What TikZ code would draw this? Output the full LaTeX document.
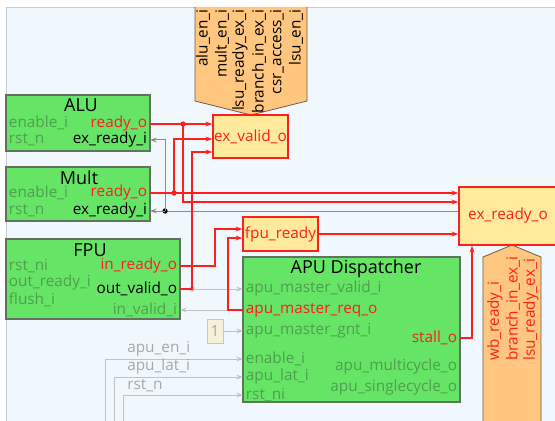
\documentclass[tikz,border=0pt]{standalone}
\usepackage{fontspec}
\setmainfont{Open Sans}
\usetikzlibrary{arrows.meta}

\definecolor{bgblue}{RGB}{240,248,254}
\definecolor{bgline}{RGB}{200,204,208}
\definecolor{blockgreen}{RGB}{102,228,102}
\definecolor{blockline}{RGB}{95,115,95}
\definecolor{pingray}{RGB}{78,160,78}
\definecolor{wirered}{RGB}{255,30,30}
\definecolor{logicyellow}{RGB}{255,234,156}
\definecolor{busorange}{RGB}{254,198,126}
\definecolor{busline}{RGB}{110,92,72}
\definecolor{wiregray}{RGB}{195,195,195}
\definecolor{labelgray}{RGB}{168,168,168}
\definecolor{constfill}{RGB}{246,242,218}

\tikzset{
  block/.style={draw=blockline,fill=blockgreen,line width=0.8pt},
  blocktitle/.style={font=\fontsize{13.5}{15}\selectfont},
  pinin/.style={anchor=west,text=pingray,inner xsep=2pt,inner ysep=0pt},
  pinout/.style={anchor=east,inner xsep=2pt,inner ysep=0pt},
  logic/.style={draw=wirered,fill=logicyellow,text=wirered,line width=1.1pt,inner sep=0pt},
  redwire/.style={draw=wirered,line width=1.1pt},
  graywire/.style={draw=wiregray,line width=0.75pt},
  darkwire/.style={draw=black!45,line width=0.75pt},
  bus/.style={draw=busline,fill=busorange,line width=0.6pt},
  junction/.style={circle,inner sep=0pt,minimum size=4pt},
}

\begin{document}
\begin{tikzpicture}[x=0.75pt,y=-0.75pt,>={Stealth[length=5pt,width=3.6pt]},
  font=\fontsize{11.5}{13}\selectfont]

\useasboundingbox (0,0) rectangle (555,420);
\clip (0,0) rectangle (555,420);

\fill[bgblue] (6,7) rectangle (560,425);
\draw[bgline] (560,7) -- (6,7) -- (6,425);

%%%%%%%%%%%%%%%%%%%%%%%%%%%%%%%%%%%%%%

\draw[bus] (195,7) -- (195,101) -- (251,115) -- (307,101) -- (307,7);
\foreach \x/\nm/\txt in {203/bai/alu\_en\_i,222/bmi/mult\_en\_i,240/blr/lsu\_ready\_ex\_i,
    259/bbr/branch\_in\_ex\_i,277/bcs/csr\_access\_i,296/bls/lsu\_en\_i}
  \node[rotate=90,anchor=east,inner sep=0pt] (\nm) at (\x,9) {\txt};

\draw[bus] (483,425) -- (483,257) -- (512,245) -- (541,257) -- (541,425);
\foreach \x/\nm/\txt in {495/owb/wb\_ready\_i,513/obr/branch\_in\_ex\_i,531/olr/lsu\_ready\_ex\_i}
  \node[rotate=90,anchor=west,inner sep=0pt,text=wirered] (\nm) at (\x,361) {\txt};

%%%%%%%%%%%%%%%%%%%%%%%%%%%%%%%%%%%%%%

\draw[block] (6,95) rectangle (150,151);
\node[blocktitle] (alu) at (81,105) {ALU};
\node[pinin] (aluen) at (6,123) {enable\_i};
\node[pinin] (alurst) at (6,140) {rst\_n};
\node[pinout,text=wirered] (alurdy) at (150,124) {ready\_o};
\node[pinout] (aluexr) at (150,140) {ex\_ready\_i};

\draw[block] (6,167) rectangle (150,221);
\node[blocktitle] (mult) at (79,178) {Mult};
\node[pinin] (multen) at (6,193) {enable\_i};
\node[pinin] (multrst) at (6,211) {rst\_n};
\node[pinout,text=wirered] (multrdy) at (150,193) {ready\_o};
\node[pinout] (multexr) at (150,211) {ex\_ready\_i};

\draw[block] (6,239) rectangle (180,319);
\node[blocktitle] (fpu) at (90,250) {FPU};
\node[pinin] (fpurst) at (6,266) {rst\_ni};
\node[pinin] (fpuoutr) at (6,283) {out\_ready\_i};
\node[pinin] (fpuflush) at (6,300) {flush\_i};
\node[pinout,text=wirered] (fpuinr) at (180,266) {in\_ready\_o};
\node[pinout] (fpuoutv) at (180,289) {out\_valid\_o};
\node[pinout,text=pingray] (fpuinv) at (180,310) {in\_valid\_i};

\draw[block] (243,257) rectangle (460,402);
\node[blocktitle] (apu) at (356,269) {APU Dispatcher};
\node[pinin] (apuvalid) at (243,289) {apu\_master\_valid\_i};
\node[pinin,text=wirered] (apureq) at (243,310) {apu\_master\_req\_o};
\node[pinin] (apugnt) at (243,331) {apu\_master\_gnt\_i};
\node[pinin] (apuen) at (243,359) {enable\_i};
\node[pinin] (apulat) at (243,377) {apu\_lat\_i};
\node[pinin] (apurst) at (243,395) {rst\_ni};
\node[pinout,text=wirered] (apustall) at (460,338) {stall\_o};
\node[pinout,text=pingray] (apumulti) at (460,367) {apu\_multicycle\_o};
\node[pinout,text=pingray] (apusingle) at (460,388) {apu\_singlecycle\_o};

%%%%%%%%%%%%%%%%%%%%%%%%%%%%%%%%%%%%%%

\node[logic,minimum width=56.25pt,minimum height=32.25pt] (exvalid) at (250.5,136.5) {ex\_valid\_o};
\node[logic,minimum width=56.25pt,minimum height=25.5pt] (fpurdy) at (280.5,234) {fpu\_ready};
\node[logic,minimum width=73.5pt,minimum height=43.5pt] (exrdy) at (508,216) {ex\_ready\_o};
\node[draw=black!22,fill=constfill,text=labelgray,minimum width=12pt,minimum height=18pt,
  inner sep=0pt] (one) at (215,331) {1};

%%%%%%%%%%%%%%%%%%%%%%%%%%%%%%%%%%%%%%

\draw[darkwire] (exrdy.west |- 0,211) -- (165,211);
\node[junction,fill=black] (jdark) at (165,211) {};
\draw[darkwire,->] (jdark.center) -- (multexr.east);
\draw[darkwire,->] (jdark.center) |- (aluexr.east);

\draw[graywire,->] (fpuoutv.east) -- (apuvalid.west);
\node[junction,fill=black!25] (jgray) at (192,289) {};
\draw[graywire,->] (apureq.west) -- (fpuinv.east);
\draw[graywire,->] (one.east) -- (apugnt.west);

\coordinate (enbot) at (105,425);
\coordinate (latbot) at (114,425);
\coordinate (rstbot) at (123,425);
\draw[graywire,->] (enbot) |- (apuen.west);
\draw[graywire,->] (latbot) |- (apulat.west);
\draw[graywire,->] (rstbot) |- (apurst.west);
\node[anchor=west,text=labelgray,inner sep=0pt] (enlbl) at (127,349) {apu\_en\_i};
\node[anchor=west,text=labelgray,inner sep=0pt] (latlbl) at (127,367) {apu\_lat\_i};
\node[anchor=west,text=labelgray,inner sep=0pt] (rstlbl) at (127,386) {rst\_n};

%%%%%%%%%%%%%%%%%%%%%%%%%%%%%%%%%%%%%%

\draw[redwire,->] (alurdy.east) -- (exvalid.west |- alurdy.east);
\node[junction,fill=wirered] (jalu) at (183,124) {};
\draw[redwire,->] (jalu.center) |- (exrdy.west |- 0,202);

\draw[redwire,->] (multrdy.east) -- (exrdy.west |- multrdy.east);
\node[junction,fill=wirered] (jmult) at (174,193) {};
\draw[redwire,->] (jmult.center) |- (exvalid.west |- 0,139);

\draw[redwire,->] (fpuoutv.east) -- (jgray.center) |- (exvalid.west |- 0,152);
\draw[redwire,->] (fpuinr.east) -- ++(35,0) |- (fpurdy.west |- 0,229);
\draw[redwire,->] (apureq.west) -- ++(-15,0) |- (fpurdy.west |- 0,238);

\draw[redwire,->] (fpurdy.east) -- (exrdy.west |- fpurdy.east);
\draw[redwire,->] (apustall.east) -| (exrdy.south -| 472,0);

\end{tikzpicture}
\end{document}
